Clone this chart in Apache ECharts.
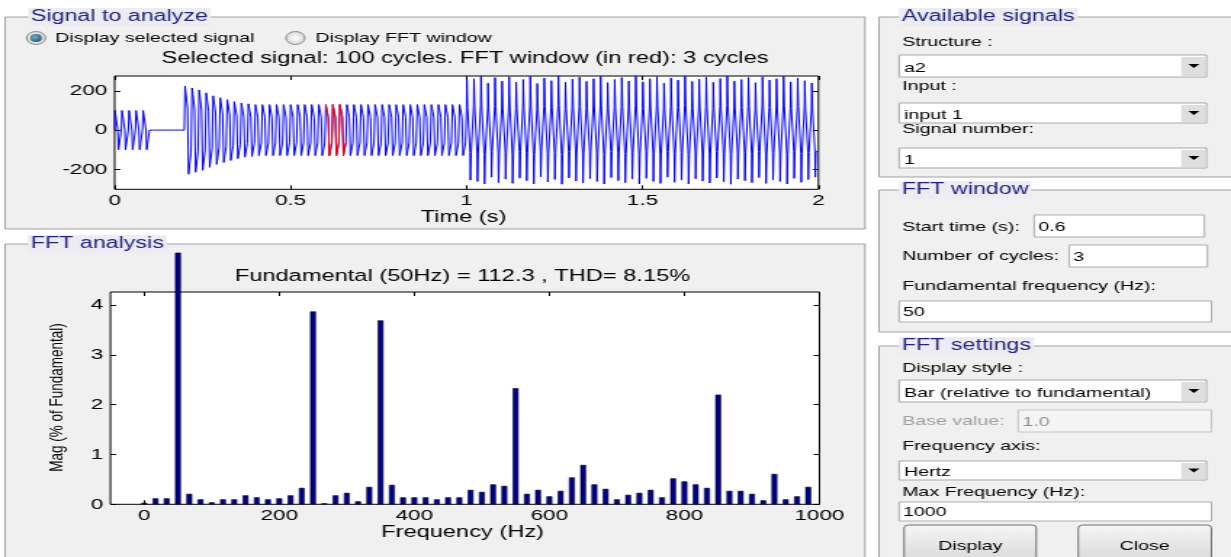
<!DOCTYPE html>
<html><head><meta charset="utf-8">
<script src="https://cdn.jsdelivr.net/npm/echarts@6/dist/echarts.min.js"></script>
<style>
html,body{margin:0;padding:0;background:#fff;overflow:hidden;width:1231px;height:557px;}
#wrap{position:absolute;left:0;top:0;height:557px;transform-origin:0 0;}
</style></head><body><div id="wrap"></div>
<script>
// ---------------- data ----------------
const timeTicks = [0, 0.5, 1, 1.5, 2];
const signalTicks = [-200, 0, 200];
const fftFreqTicks = [0, 200, 400, 600, 800, 1000];
const fftMagTicks = [0, 1, 2, 3, 4];

const fftFreqs = [0,16.7,33.3,50,66.7,83.3,100,116.7,133.3,150,166.7,183.3,200,216.7,233.3,250,266.7,283.3,300,316.7,
  333.3,350,366.7,383.3,400,416.7,433.3,450,466.7,483.3,500,516.7,533.3,550,566.7,583.3,600,616.7,633.3,650,
  666.7,683.3,700,716.7,733.3,750,766.7,783.3,800,816.7,833.3,850,866.7,883.3,900,916.7,933.3,950,966.7,983.3];
const fftMags = [0.03,0.12,0.12,5.05,0.21,0.10,0.04,0.10,0.10,0.18,0.14,0.10,0.12,0.18,0.33,3.87,0.02,0.18,0.23,0.06,
  0.35,3.69,0.39,0.14,0.14,0.14,0.10,0.14,0.14,0.29,0.25,0.40,0.37,2.33,0.21,0.29,0.16,0.27,0.54,0.79,
  0.40,0.31,0.10,0.19,0.23,0.29,0.14,0.52,0.46,0.40,0.33,2.20,0.27,0.27,0.21,0.08,0.61,0.10,0.16,0.35];

// one 50 Hz cycle sampled every 1 ms (normalised levels, held until the next sample)
const cycleShapeSquare = [0,1,1,1,1,1,1,1,1,0,0,-1,-1,-1,-1,-1,-1,-1,-1,0];
const cycleShapeStep   = [1,1,1,1,1,1,1,0.5,0.5,0.5,-1,-1,-1,-1,-1,-1,-1,-0.5,-0.5,-0.5];
const cycleShapeSpike  = [0.45,1,1,0.45,0.45,0.45,0.45,0.45,0.45,0.45,-0.45,-1,-1,-0.45,-0.45,-0.45,-0.45,-0.45,-0.45,-0.45];
// peak value of each of the 100 cycles
const cyclePeak = [
  100,100,100,100,100, 0,0,0,0,0,
  225,215,205,190,175,165,155,145,138,134,
  130,130,130,130,130,130,130,130,130,130,
  130,130,130,130,130,130,130,130,130,130,
  130,130,130,130,130,130,130,130,130,130,
  255,262,275,240,268,250,272,245,258,275,
  238,265,252,276,244,260,270,248,262,275,
  242,258,268,250,275,246,262,272,240,266,
  255,275,248,260,270,244,263,276,250,258,
  268,242,272,255,262,275,246,266,252,240];
const squareCycles = 5;
const spikeFromCycle = 50;
const fftWindowCycles = [30, 31, 32];

// ---------------- layout ----------------
const S = 1.45;                 // horizontal stretch of the reference picture
const X = v => v / S;
const W = 1231 / S;
const wrap = document.getElementById('wrap');
wrap.style.width = W + 'px';
wrap.style.transform = 'scaleX(' + S + ')';

function cyclePoints(c) {
  const shape = c < squareCycles ? cycleShapeSquare : (c >= spikeFromCycle ? cycleShapeSpike : cycleShapeStep);
  const pts = [];
  shape.forEach((v, k) => {
    const val = v * cyclePeak[c];
    pts.push([(c * 20 + k) / 1000, val], [(c * 20 + k + 1) / 1000, val]);
  });
  return pts;
}
const blue = [];
for (let c = 0; c < cyclePeak.length; c++) blue.push(...cyclePoints(c));
const red = [];
fftWindowCycles.forEach(c => red.push(...cyclePoints(c)));

const FONT = '"Liberation Sans", Arial, sans-serif';
const axisLab = { color: '#000', fontFamily: FONT, fontSize: 15.5, formatter: v => String(v) };
const tick = { inside: true, length: 4, lineStyle: { color: '#000', width: 1 } };

function txt(t, x, y, opt) {
  opt = opt || {};
  return { type: 'text', z: opt.z || 1, x: X(x), y: y, rotation: opt.rot || 0,
    style: { text: t, x: 0, y: 0, fill: opt.color || '#000',
      font: (opt.size || 13.5) + 'px ' + FONT,
      align: opt.align || 'left', textAlign: opt.align || 'left',
      verticalAlign: 'middle', textVerticalAlign: 'middle',
      backgroundColor: opt.bg, padding: opt.bg ? [1, 2] : 0 } };
}
function rect(x1, y1, x2, y2, fill, stroke, r, z) {
  return { type: 'rect', z: z || 0, shape: { x: X(x1), y: y1, width: X(x2 - x1), height: y2 - y1, r: r || 0 },
    style: { fill: fill, stroke: stroke || null, lineWidth: 1 } };
}
function panel(x1, y1, x2, y2, title, tx) {
  return [rect(x1, y1, x2, y2, '#f0f0f0', '#a0a0a0'),
    txt(title, tx, y1, { size: 16, color: '#22228a', bg: '#ececf2', z: 2 })];
}
function dropdown(y1, y2, label) {
  return [rect(898, y1, 1205, y2, '#fff', '#a8a8a8', 0, 1),
    rect(1180, y1 + 2, 1204, y2 - 1, '#dedede', null, 0, 1),
    { type: 'polygon', z: 2, shape: { points: [[X(1187), (y1 + y2) / 2 - 2], [X(1198), (y1 + y2) / 2 - 2], [X(1192.5), (y1 + y2) / 2 + 2]] },
      style: { fill: '#000' } },
    txt(label, 903, (y1 + y2) / 2 + 2)];
}
function editbox(x1, y1, x2, y2, label, dis) {
  return [rect(x1, y1, x2, y2, dis ? '#f4f4f4' : '#fff', dis ? '#c4c4c4' : '#abadb3', 0, 1),
    txt(label, x1 + 4, (y1 + y2) / 2 + 1, { color: dis ? '#909090' : '#000' })];
}
function button(x1, x2, label) {
  return [{ type: 'rect', z: 1, shape: { x: X(x1), y: 525, width: X(x2 - x1), height: 40, r: 3 },
    style: { stroke: '#707070', lineWidth: 1,
      fill: new echarts.graphic.LinearGradient(0, 0, 0, 1, [{ offset: 0, color: '#f6f6f6' }, { offset: 1, color: '#d6d6d6' }]) } },
    txt(label, (x1 + x2) / 2, 546, { align: 'center' })];
}
function radio(cx, cy, on) {
  const els = [{ type: 'circle', z: 1, shape: { cx: X(cx), cy: cy, r: 6.5 },
    style: { stroke: '#8a8a8a', lineWidth: 1,
      fill: new echarts.graphic.RadialGradient(0.5, 0.5, 0.6, [{ offset: 0, color: '#ffffff' }, { offset: 1, color: '#cccccc' }]) } }];
  if (on) els.push({ type: 'circle', z: 2, shape: { cx: X(cx), cy: cy, r: 4 },
    style: { fill: new echarts.graphic.RadialGradient(0.4, 0.4, 0.7, [{ offset: 0, color: '#6fb4d0' }, { offset: 1, color: '#1d4f6e' }]) } });
  return els;
}

const graphics = [].concat(
  panel(5, 17, 864, 229, 'Signal to analyze', 28),
  panel(5, 244, 864, 570, 'FFT analysis', 28),
  panel(878, 17, 1245, 177, 'Available signals', 898),
  panel(878, 190, 1245, 332, 'FFT window', 898),
  panel(878, 346, 1245, 570, 'FFT settings', 898),
  radio(36, 38, true), [txt('Display selected signal', 55, 38)],
  radio(295, 38, false), [txt('Display FFT window', 315, 38)],
  [txt('Selected signal: 100 cycles. FFT window (in red): 3 cycles', 464.5, 59, { size: 16.3, align: 'center' }),
   txt('Time (s)', 463, 218, { size: 16.3, align: 'center' }),
   txt('Fundamental (50Hz) = 112.3 , THD= 8.15%', 462, 276.5, { size: 16.3, align: 'center' }),
   txt('Frequency (Hz)', 462, 532.5, { size: 16.3, align: 'center' }),
   txt('Mag (% of Fundamental)', 57.5, 397.5, { size: 13.5, align: 'center', rot: Math.PI / 2 }),
   txt('Structure :', 901, 42), txt('Input :', 901, 86), txt('Signal number:', 901, 129)],
  dropdown(55, 77, 'a2'), dropdown(103, 123, 'input 1'), dropdown(148, 168, '1'),
  [txt('Start time (s):', 901, 227), txt('Number of cycles:', 901, 256), txt('Fundamental frequency (Hz):', 901, 286)],
  editbox(1033, 215, 1203, 237, '0.6'), editbox(1068, 245, 1206, 267, '3'), editbox(898, 301, 1210, 322, '50'),
  [txt('Display style :', 901, 368)], dropdown(380, 402, 'Bar (relative to fundamental)'),
  [txt('Base value:', 901, 421, { color: '#a0a0a0' })], editbox(1017, 410, 1210, 432, '1.0', true),
  [txt('Frequency axis:', 901, 446)], dropdown(461, 480, 'Hertz'),
  [txt('Max Frequency (Hz):', 901, 492)], editbox(898, 502, 1210, 521, '1000'),
  button(903, 1035, 'Display'), button(1077, 1210, 'Close')
);

const g0 = { left: X(114.5), top: 76, width: X(817.5 - 114.5), height: 113.3 };
const g1 = { left: X(110.3), top: 292, width: X(818.5 - 110.3), height: 212.3 };
[g0, g1].forEach(g => Object.assign(g, { show: true, z: 10, backgroundColor: '#fff', borderColor: '#000', borderWidth: 1, containLabel: false }));

function ax(grid, min, max, ticks, pos, labels, margin) {
  return { type: 'value', gridIndex: grid, position: pos, min: min, max: max, z: 12,
    axisLine: { show: false, onZero: false }, splitLine: { show: false },
    axisTick: Object.assign({ customValues: ticks }, tick),
    axisLabel: Object.assign({ show: labels, customValues: ticks, margin: margin }, axisLab) };
}

const chart = echarts.init(wrap, null, { width: W, height: 557, renderer: 'canvas' });
chart.setOption({
  animation: false,
  backgroundColor: '#fff',
  grid: [g0, g1],
  xAxis: [
    ax(0, 0, 2, timeTicks, 'bottom', true, 3), ax(0, 0, 2, timeTicks, 'top', false, 3),
    ax(1, -50, 1000, fftFreqTicks, 'bottom', true, 3), ax(1, -50, 1000, fftFreqTicks, 'top', false, 3)
  ],
  yAxis: [
    ax(0, -302, 276, signalTicks, 'left', true, 5), ax(0, -302, 276, signalTicks, 'right', false, 5),
    ax(1, 0, 4.26, fftMagTicks, 'left', true, 5), ax(1, 0, 4.26, fftMagTicks, 'right', false, 5)
  ],
  graphic: { elements: graphics },
  series: [
    { type: 'line', xAxisIndex: 0, yAxisIndex: 0, data: blue, showSymbol: false, symbol: 'none', sampling: null,
      lineStyle: { color: '#0000ff', width: 1 }, z: 13 },
    { type: 'line', xAxisIndex: 0, yAxisIndex: 0, data: red, showSymbol: false, symbol: 'none', sampling: null,
      lineStyle: { color: '#ff0000', width: 1 }, z: 14 },
    { type: 'bar', xAxisIndex: 2, yAxisIndex: 2, clip: false, barWidth: X(5.8),
      data: fftFreqs.map((f, i) => [f, fftMags[i]]),
      itemStyle: { color: '#000088', borderColor: '#000030', borderWidth: 0.6 }, z: 13 }
  ]
});
</script></body></html>
